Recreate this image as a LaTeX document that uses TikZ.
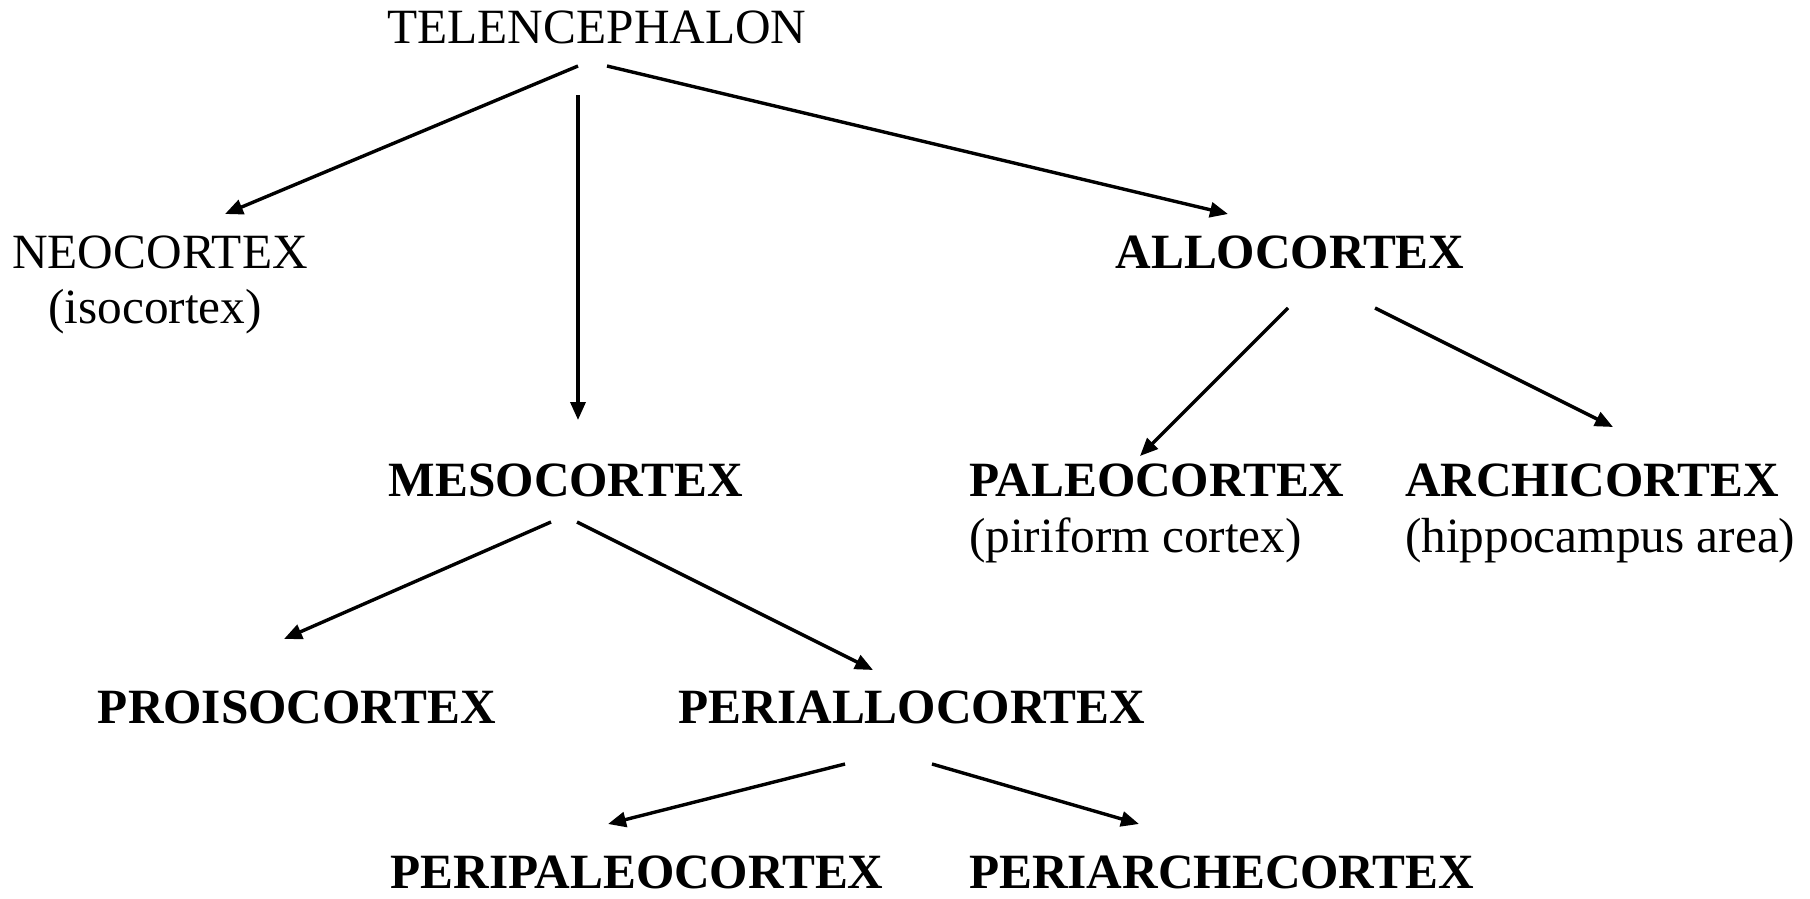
\documentclass[tikz,border=0pt]{standalone}
\usepackage{fontspec}
\setmainfont{Liberation Serif}
\usetikzlibrary{arrows.meta}
\begin{document}
\begin{tikzpicture}[x=1pt,y=-1pt,
  lbl/.style={inner sep=0pt,anchor=base,font=\fontsize{49.3}{55}\selectfont},
  lblb/.style={lbl,font=\fontsize{49.3}{55}\selectfont\bfseries},
  link/.style={line width=3.4pt,-{Triangle[length=18pt,width=15pt]}}]
\useasboundingbox[fill=white] (0,0) rectangle (1810,899);

% labels
\node[lbl]  (tel)   at (597,44)  {TELENCEPHALON};
\node[lbl]  (neo)   at (160,268) {NEOCORTEX};
\node[lbl]  (neos)  at (155,323) {(isocortex)};
\node[lblb] (allo)  at (1290,268) {ALLOCORTEX};
\node[lblb] (meso)  at (566,496) {MESOCORTEX};
\node[lblb,anchor=base west] (paleo)  at (969,496) {PALEOCORTEX};
\node[lbl,anchor=base west]  (paleos) at (969,552) {(piriform cortex)};
\node[lblb,anchor=base west] (archi)  at (1405,496) {ARCHICORTEX};
\node[lbl,anchor=base west]  (archis) at (1405,552) {(hippocampus area)};
\node[lblb] (proiso) at (297,723) {PROISOCORTEX};
\node[lblb] (peri)   at (912,723) {PERIALLOCORTEX};
\node[lblb] (peripal) at (637,888) {PERIPALEOCORTEX};
\node[lblb,anchor=base west] (periarc) at (969,888) {PERIARCHECORTEX};

% connector ends
\coordinate (telA) at (578,66);
\coordinate (telB) at (578,95);
\coordinate (telC) at (607,66);
\coordinate (neoT) at (225,214);
\coordinate (mesoT) at (578,420);
\coordinate (alloT) at (1228,214);
\coordinate (alloA) at (1288,308);
\coordinate (alloB) at (1375,308);
\coordinate (paleoT) at (1140,456);
\coordinate (archiT) at (1613,427);
\coordinate (mesoA) at (551,522);
\coordinate (mesoB) at (577,522);
\coordinate (proisoT) at (284,639);
\coordinate (periT) at (873,670);
\coordinate (periA) at (845,764);
\coordinate (periB) at (932,764);
\coordinate (peripalT) at (608,824);
\coordinate (periarcT) at (1139,824);

% connectors
\draw[link] (telA) -- (neoT);
\draw[link] (telB) -- (mesoT);
\draw[link] (telC) -- (alloT);
\draw[link] (alloA) -- (paleoT);
\draw[link] (alloB) -- (archiT);
\draw[link] (mesoA) -- (proisoT);
\draw[link] (mesoB) -- (periT);
\draw[link] (periA) -- (peripalT);
\draw[link] (periB) -- (periarcT);
\end{tikzpicture}
\end{document}
